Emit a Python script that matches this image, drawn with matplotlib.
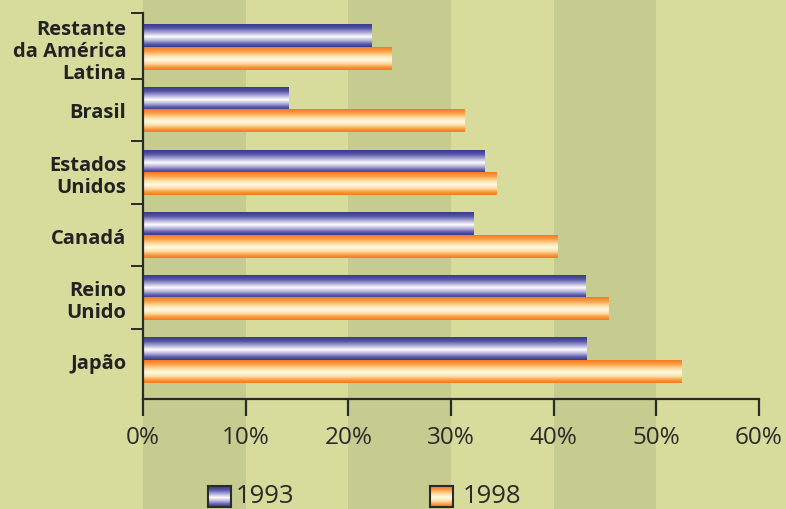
import numpy as np
import matplotlib
matplotlib.use("Agg")
import matplotlib.pyplot as plt
from matplotlib.colors import LinearSegmentedColormap

# Share of exports (%) by destination, 1993 vs 1998
categories = ["Restante\nda América\nLatina", "Brasil", "Estados\nUnidos",
              "Canadá", "Reino\nUnido", "Japão"]
values_1993 = [22.3, 14.2, 33.3, 32.2, 43.1, 43.2]
values_1998 = [24.2, 31.3, 34.4, 40.4, 45.3, 52.5]
series_labels = ["1993", "1998"]
x_ticks = [0, 10, 20, 30, 40, 50, 60]
x_tick_labels = ["0%", "10%", "20%", "30%", "40%", "50%", "60%"]

plt.rcParams["font.family"] = ["Open Sans", "DejaVu Sans"]

W, H = 786, 510
LIGHT = "#d7dc9c"
DARK = "#c6cc90"
INK = "#2a2a2a"
fig = plt.figure(figsize=(W / 100, H / 100), dpi=100, facecolor=LIGHT)

# axes placement in figure pixels
ax_left, ax_right, ax_top, ax_bottom = 143, 759, 14, 400
xmin, xmax = 0, 60
px_per_unit = (ax_right - ax_left) / (xmax - xmin)

# striped background spanning the whole figure, aligned with the x grid
bg = fig.add_axes([0, 0, 1, 1], zorder=0)
bg.set_xlim(xmin - ax_left / px_per_unit, xmax + (W - ax_right) / px_per_unit)
bg.set_ylim(0, 1)
for s in range(0, 60, 20):
    bg.axvspan(s, s + 10, color=DARK, lw=0)
bg.axis("off")

ax = fig.add_axes([ax_left / W, 1 - ax_bottom / H,
                   (ax_right - ax_left) / W, (ax_bottom - ax_top) / H], zorder=1)
ax.patch.set_alpha(0)

blue_cmap = LinearSegmentedColormap.from_list(
    "blue_tube", [(0.0, "#3a3a8e"), (0.18, "#5656a8"), (0.38, "#b4b0da"),
                  (0.55, "#ffffff"), (0.72, "#b4b0da"), (0.88, "#5a5aaa"),
                  (1.0, "#3a3a8e")])
orange_cmap = LinearSegmentedColormap.from_list(
    "orange_tube", [(0.0, "#f47a1a"), (0.18, "#f9a04a"), (0.38, "#fde0a8"),
                    (0.55, "#fffbe6"), (0.72, "#fddca0"), (0.88, "#f8983e"),
                    (1.0, "#f47a1a")])
grad = np.linspace(0, 1, 64).reshape(-1, 1)

n = len(categories)
centers = np.arange(n)[::-1]  # first category on top
bar_h = 0.36

for c, v93, v98 in zip(centers, values_1993, values_1998):
    ax.imshow(grad, extent=(0, v93, c, c + bar_h), origin="upper",
              aspect="auto", cmap=blue_cmap, zorder=2, interpolation="bilinear")
    ax.imshow(grad, extent=(0, v98, c - bar_h, c), origin="upper",
              aspect="auto", cmap=orange_cmap, zorder=2, interpolation="bilinear")

ylo = -0.62
yhi = n - 1 + 0.55
ax.set_xlim(xmin, xmax)
ax.set_ylim(ylo, yhi)

for side in ["top", "right"]:
    ax.spines[side].set_visible(False)
for side in ["left", "bottom"]:
    ax.spines[side].set_color(INK)
    ax.spines[side].set_linewidth(1.6)

ax.set_xticks(x_ticks)
ax.set_xticklabels(x_tick_labels, fontsize=17.5, color=INK)
ax.tick_params(axis="x", direction="out", length=12, width=1.6,
               color=INK, pad=7)

# y ticks mark the boundaries between groups; labels sit at group centres
boundaries = list(np.arange(n - 1) + 0.5) + [yhi]
ax.set_yticks(boundaries)
ax.set_yticklabels([])
ax.tick_params(axis="y", which="major", direction="out", length=9, width=1.4,
               color=INK)
ax.set_yticks(centers, minor=True)
ax.set_yticklabels(categories, minor=True, fontsize=14.5, fontweight="bold",
                   color="#222222", linespacing=1.15)
ax.tick_params(axis="y", which="minor", length=0, pad=12)

# legend with tube-shaded swatches
def swatch(x0, text_x, cmap, label):
    sw = fig.add_axes([x0 / W, 1 - 508 / H, 23 / W, 21 / H], zorder=3)
    sw.imshow(grad, aspect="auto", cmap=cmap, interpolation="bilinear",
              extent=(0, 1, 0, 1), origin="upper")
    sw.set_xticks([])
    sw.set_yticks([])
    for s in sw.spines.values():
        s.set_color(INK)
        s.set_linewidth(1.5)
    fig.text(text_x / W, 1 - 509 / H, label, fontsize=18.5,
             color=INK, va="bottom", ha="left")

swatch(208, 236, blue_cmap, series_labels[0])
swatch(430, 463, orange_cmap, series_labels[1])

fig.savefig("out.png", dpi=100, facecolor=LIGHT)
